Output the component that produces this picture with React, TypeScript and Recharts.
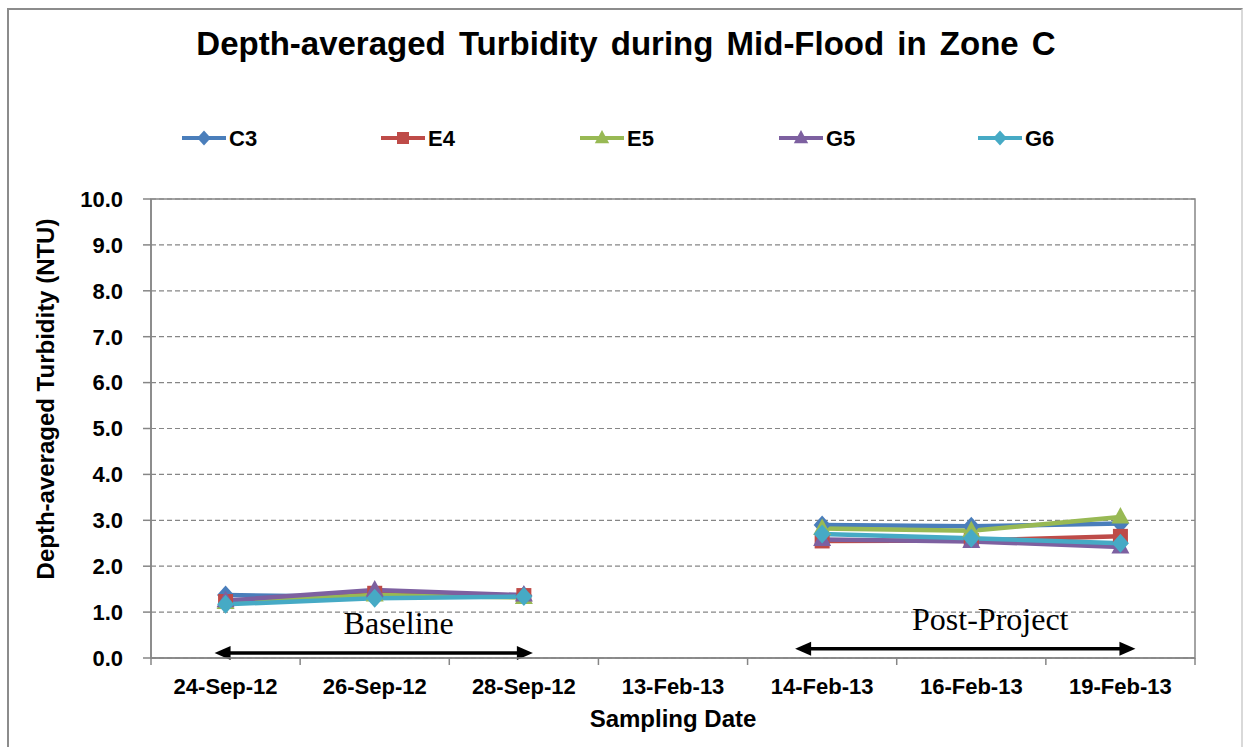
import React from "react";
import { LineChart, Line, XAxis, YAxis, CartesianGrid, ReferenceArea, ReferenceLine } from "recharts";

const dates = ["24-Sep-12", "26-Sep-12", "28-Sep-12", "13-Feb-13", "14-Feb-13", "16-Feb-13", "19-Feb-13"];

const c3 = [1.37, 1.33, 1.36, null, 2.9, 2.87, 2.93];
const e4 = [1.23, 1.41, 1.36, null, 2.55, 2.56, 2.65];
const e5 = [1.21, 1.37, 1.32, null, 2.82, 2.77, 3.07];
const g5 = [1.25, 1.48, 1.37, null, 2.58, 2.54, 2.42];
const g6 = [1.17, 1.3, 1.34, null, 2.7, 2.61, 2.5];

const yTicks = [0, 1, 2, 3, 4, 5, 6, 7, 8, 9, 10];

const phaseNames = ["Baseline", "Post-Project"];
const phaseStart = ["24-Sep-12", "14-Feb-13"];
const phaseEnd = ["28-Sep-12", "19-Feb-13"];
const phaseLevel = [0.11, 0.2];

const series = [
  { key: "C3", values: c3, color: "#4A7EBB", marker: "diamond" },
  { key: "E4", values: e4, color: "#BE4B48", marker: "square" },
  { key: "E5", values: e5, color: "#98B954", marker: "triangle" },
  { key: "G5", values: g5, color: "#7D60A0", marker: "triangle" },
  { key: "G6", values: g6, color: "#46AAC5", marker: "diamond" },
];

const data = dates.map((d, i) => {
  const row: any = { date: d };
  series.forEach((s) => (row[s.key] = s.values[i]));
  return row;
});

const FONT = "'Liberation Sans', Arial, sans-serif";
const SERIF = "'Liberation Serif', 'DejaVu Serif', serif";
const W = 1243;
const H = 747;
const M = { top: 199, right: 48, bottom: 59, left: 71 };
const Y_W = 80;
const X_H = 30;
const BAND = (W - M.left - M.right - Y_W) / dates.length;

function Marker({ cx, cy, kind, color, s = 1 }: { cx: number; cy: number; kind: string; color: string; s?: number }) {
  if (cx == null || cy == null || isNaN(cy)) return null;
  if (kind === "diamond")
    return (
      <polygon
        points={`${cx},${cy - 9.5 * s} ${cx + 8.5 * s},${cy} ${cx},${cy + 9.5 * s} ${cx - 8.5 * s},${cy}`}
        fill={color}
      />
    );
  if (kind === "square") return <rect x={cx - 7.5 * s} y={cy - 7.5 * s} width={15 * s} height={15 * s} fill={color} />;
  return (
    <polygon
      points={`${cx},${cy - 10 * s} ${cx + 9 * s},${cy + 6.5 * s} ${cx - 9 * s},${cy + 6.5 * s}`}
      fill={color}
    />
  );
}

function DateTick(props: any) {
  const { x, y, payload, index } = props;
  return (
    <g>
      <line x1={x - BAND / 2} x2={x - BAND / 2} y1={y} y2={y + 7} stroke="#868686" strokeWidth={1.5} />
      {index === dates.length - 1 && (
        <line x1={x + BAND / 2} x2={x + BAND / 2} y1={y} y2={y + 7} stroke="#868686" strokeWidth={1.5} />
      )}
      <text x={x} y={y + 36} textAnchor="middle" fontFamily={FONT} fontWeight="bold" fontSize={22} fill="#000">
        {payload.value}
      </text>
    </g>
  );
}

function phaseArrow(name: string, extL: number, extR: number) {
  return (p: any) => {
    const a = p.x1 - extL;
    const b = p.x2 + extR;
    const y = p.y1;
    return (
      <g>
        <line x1={a + 12} x2={b - 12} y1={y} y2={y} stroke="#000" strokeWidth={3.5} />
        <polygon points={`${a},${y} ${a + 16},${y - 7} ${a + 16},${y + 7}`} fill="#000" />
        <polygon points={`${b},${y} ${b - 16},${y - 7} ${b - 16},${y + 7}`} fill="#000" />
        <text x={(a + b) / 2 + 25} y={y - 19} textAnchor="middle" fontFamily={SERIF} fontSize={32} fill="#000">
          {name}
        </text>
      </g>
    );
  };
}

const arrowExt = [
  [11, 9],
  [27, 15],
];

export default function App() {
  return (
    <div
      style={{ position: "absolute", left: 0, top: 0, width: W, height: H, background: "#fff", overflow: "hidden" }}
    >
      <div
        style={{
          position: "absolute",
          left: 7,
          top: 8,
          width: 1232,
          height: 800,
          border: "2px solid #8c8c8c",
          borderRightColor: "#d9d9d9",
        }}
      />
      <LineChart width={W} height={H} data={data} margin={M} style={{ position: "absolute", left: 0, top: 0 }}>
        <CartesianGrid vertical={false} stroke="#868686" strokeDasharray="5 3" strokeWidth={1.2} />
        <ReferenceArea
          x1={dates[0]}
          x2={dates[dates.length - 1]}
          y1={0}
          y2={10}
          fill="none"
          stroke="#868686"
          strokeWidth={1.5}
          ifOverflow="visible"
        />
        <XAxis
          dataKey="date"
          scale="band"
          height={X_H}
          stroke="#868686"
          strokeWidth={1.5}
          tickLine={false}
          tickSize={0}
          tickMargin={0}
          interval={0}
          tick={<DateTick />}
        />
        <YAxis
          width={Y_W}
          domain={[0, 10]}
          ticks={yTicks}
          interval={0}
          tickFormatter={(v: number) => v.toFixed(1)}
          stroke="#868686"
          strokeWidth={1.5}
          tickSize={8}
          tickMargin={20}
          tick={{ fill: "#000", fontSize: 22, fontWeight: "bold", fontFamily: FONT }}
        />
        {series.map((s) => (
          <Line
            key={s.key}
            dataKey={s.key}
            stroke={s.color}
            strokeWidth={4.5}
            isAnimationActive={false}
            dot={(p: any) => <Marker key={`${s.key}-${p.index}`} cx={p.cx} cy={p.cy} kind={s.marker} color={s.color} />}
            activeDot={false}
          />
        ))}
        {phaseNames.map((n, i) => (
          <ReferenceLine
            key={n}
            segment={[
              { x: phaseStart[i], y: phaseLevel[i] },
              { x: phaseEnd[i], y: phaseLevel[i] },
            ]}
            ifOverflow="visible"
            shape={phaseArrow(n, arrowExt[i][0], arrowExt[i][1])}
          />
        ))}
      </LineChart>
      <svg width={W} height={H} style={{ position: "absolute", left: 0, top: 0, pointerEvents: "none" }}>
        <text
          x={626}
          y={55}
          textAnchor="middle"
          fontFamily={FONT}
          fontWeight="bold"
          fontSize={33}
          wordSpacing={4}
          fill="#000"
        >
          Depth-averaged Turbidity during Mid-Flood in Zone C
        </text>
        {series.map((s, i) => {
          const lx = 182 + i * 199;
          return (
            <g key={s.key}>
              <line x1={lx} x2={lx + 44} y1={138} y2={138} stroke={s.color} strokeWidth={4} />
              <Marker cx={lx + 22} cy={138} kind={s.marker} color={s.color} s={0.8} />
              <text x={lx + 47} y={146} fontFamily={FONT} fontWeight="bold" fontSize={22} fill="#000">
                {s.key}
              </text>
            </g>
          );
        })}
        <text
          transform="translate(54,399) rotate(-90)"
          textAnchor="middle"
          fontFamily={FONT}
          fontWeight="bold"
          fontSize={24}
          fill="#000"
        >
          Depth-averaged Turbidity (NTU)
        </text>
        <text x={673} y={727} textAnchor="middle" fontFamily={FONT} fontWeight="bold" fontSize={24} fill="#000">
          Sampling Date
        </text>
      </svg>
    </div>
  );
}
